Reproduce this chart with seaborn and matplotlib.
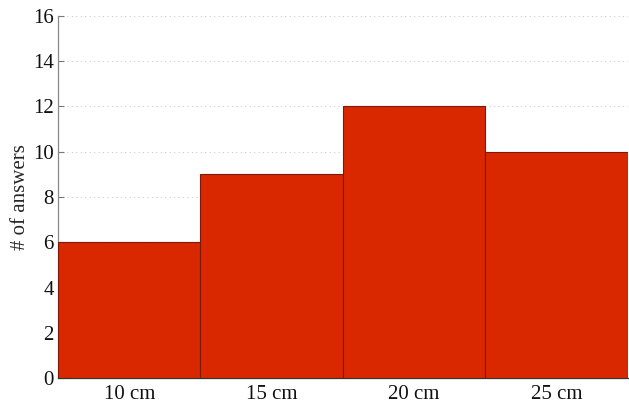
import matplotlib
matplotlib.use("Agg")
import matplotlib.pyplot as plt
import seaborn as sns
import pandas as pd

categories = ["10 cm", "15 cm", "20 cm", "25 cm"]
answers = [6, 9, 12, 10]
yticks = [0, 2, 4, 6, 8, 10, 12, 14, 16]

sns.set_theme(style="white")
plt.rcParams['font.family'] = ['Liberation Serif', 'DejaVu Serif']

df = pd.DataFrame({"size": categories, "answers": answers})

fig = plt.figure(figsize=(6.29, 4.08), dpi=100)
ax = fig.add_axes([0.0922, 0.0735, 0.906, 0.8873])
sns.barplot(data=df, x="size", y="answers", color="#D92800", saturation=1,
            width=1.0, edgecolor="#7A1A08", linewidth=0.8, ax=ax, zorder=3)
ax.set_xlim(-0.5, 3.5)
ax.set_ylim(0, 16)
ax.set_yticks(yticks)
ax.set_xlabel("")
ax.set_ylabel("# of answers", fontsize=15, labelpad=2)
ax.tick_params(axis="y", direction="in", length=4, width=0.8, color="#777777",
               labelsize=15, left=True, pad=3)
ax.tick_params(axis="x", length=0, labelsize=15, pad=5)
ax.yaxis.grid(True, linestyle=(0, (1, 3)), color="#cccccc", linewidth=0.8, zorder=0)
ax.xaxis.grid(False)
for s in ["top", "right"]:
    ax.spines[s].set_visible(False)
ax.spines["left"].set_color("#888888")
ax.spines["left"].set_linewidth(0.9)
ax.spines["bottom"].set_color("#333333")
ax.spines["bottom"].set_linewidth(0.9)
for lab in ax.get_xticklabels() + ax.get_yticklabels():
    lab.set_color("#111111")
fig.savefig("out.png", dpi=100)
